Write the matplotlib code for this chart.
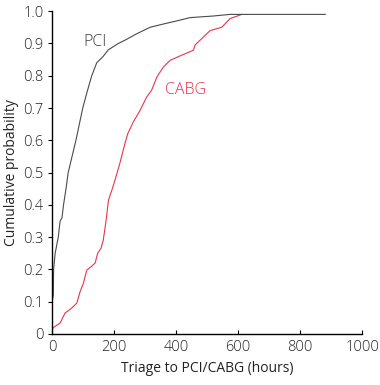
import matplotlib
matplotlib.use("Agg")
import matplotlib.pyplot as plt

# cumulative distributions
pci_hours = [0, 0, 4, 5, 10, 20, 26, 32, 37, 45, 52, 77, 99, 113, 128, 144, 165, 181,
             214, 235, 273, 316, 358, 403, 445, 520, 574, 881]
pci_prob = [0, 0.10, 0.12, 0.20, 0.25, 0.30, 0.35, 0.36, 0.40, 0.45, 0.50, 0.60, 0.70,
            0.75, 0.80, 0.84, 0.86, 0.88, 0.90, 0.91, 0.93, 0.95, 0.96, 0.97, 0.98,
            0.985, 0.99, 0.99]

cabg_hours = [0, 4, 26, 42, 63, 80, 90, 101, 112, 128, 139, 147, 158, 165, 174, 182,
              193, 203, 219, 235, 244, 262, 284, 305, 321, 338, 359, 381, 419, 456,
              461, 488, 510, 547, 574, 612]
cabg_prob = [0.01, 0.02, 0.034, 0.065, 0.08, 0.096, 0.13, 0.157, 0.198, 0.21, 0.22,
             0.25, 0.266, 0.29, 0.35, 0.415, 0.446, 0.477, 0.53, 0.59, 0.62, 0.657,
             0.693, 0.734, 0.755, 0.796, 0.827, 0.848, 0.864, 0.879, 0.895, 0.92,
             0.94, 0.95, 0.977, 0.99]

x_ticks = [0, 200, 400, 600, 800, 1000]
y_ticks = [0, 0.1, 0.2, 0.3, 0.4, 0.5, 0.6, 0.7, 0.8, 0.9, 1.0]
y_labels = ["0", "0.1", "0.2", "0.3", "0.4", "0.5", "0.6", "0.7", "0.8", "0.9", "1.0"]

plt.rcParams['font.family'] = ['Open Sans', 'DejaVu Sans']
plt.rcParams['font.weight'] = 'light'
grey = "#4a4a4a"
red = "#e8334f"
txt = "#222222"

fig = plt.figure(figsize=(3.8, 3.85), dpi=100)
ax = fig.add_axes([0.137, 0.1325, 0.816, 0.8385])

ax.plot(cabg_hours, cabg_prob, color=red, lw=0.8)
ax.plot(pci_hours, pci_prob, color=grey, lw=0.8)

ax.text(139, 0.904, "PCI", color="#3a3a3a", fontsize=11.5, ha="center", va="center")
ax.text(432, 0.755, "CABG", color=red, fontsize=11.5, ha="center", va="center")

ax.set_xlim(0, 1000)
ax.set_ylim(0, 1.0)
ax.set_xticks(x_ticks)
ax.set_yticks(y_ticks)
ax.set_yticklabels(y_labels)
ax.tick_params(axis="x", direction="in", length=3, width=0.8, labelsize=10.5,
               labelcolor=txt, pad=4)
ax.tick_params(axis="y", direction="out", length=3, width=0.8, labelsize=10.5,
               labelcolor=txt, pad=3)
ax.spines["top"].set_visible(False)
ax.spines["right"].set_visible(False)
for s in ["left", "bottom"]:
    ax.spines[s].set_linewidth(1.0)
    ax.spines[s].set_color("black")

ax.set_xlabel("Triage to PCI/CABG (hours)", fontsize=10, color=txt, labelpad=5)
ax.set_ylabel("Cumulative probability", fontsize=10, color=txt, labelpad=3)

fig.savefig("out.png", dpi=100)
